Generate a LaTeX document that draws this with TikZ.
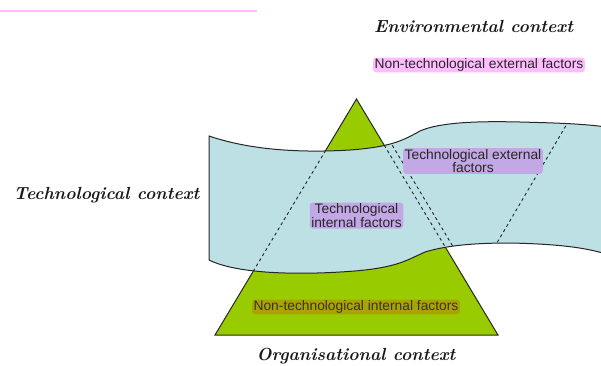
\documentclass[tikz,border=0pt]{standalone}
\usepackage{fontspec}
\setsansfont{Liberation Sans}
\begin{document}
\begin{tikzpicture}[x=1pt,y=-1pt,
  factor/.style={font=\sffamily\fontsize{13.8}{12.5}\selectfont, rounded corners=3pt,
    inner xsep=1.5pt, inner ysep=1pt, align=center, text=black!85},
  ctx/.style={font=\fontsize{17.5}{19}\selectfont\itshape\bfseries, text=black!90},
  outline/.style={draw=black!85, line width=1pt}]
\definecolor{trigreen}{HTML}{99CC00}
\definecolor{ribbonblue}{HTML}{BCE0E3}
\definecolor{techpurple}{HTML}{C3A8E6}
\definecolor{envpink}{HTML}{FFBDFF}
\definecolor{orgolive}{HTML}{A9A400}
\useasboundingbox (0,0) rectangle (601,365);

% rule at the top left
\draw[envpink, line width=2.5pt] (0,11) -- (257,11);

% organisational triangle
\coordinate (apex) at (356.5,99);
\coordinate (bl) at (215,335);
\coordinate (br) at (498,335);
\filldraw[fill=trigreen, outline] (apex) -- (br) -- (bl) -- cycle;

% technological ribbon
\def\ribbon{(209,136) .. controls (250,150) and (300,153) .. (350,150)
  .. controls (390,147) and (402,141) .. (420,131)
  .. controls (440,122) and (480,121) .. (520,122)
  .. controls (560,123) and (590,124) .. (612,128)
  -- (612,256)
  .. controls (590,248) and (560,244) .. (510,243)
  .. controls (470,243) and (445,246) .. (425,252)
  .. controls (405,261) and (395,269) .. (340,272)
  .. controls (290,275) and (235,273) .. (209,260) -- cycle}
\filldraw[fill=ribbonblue, outline] \ribbon;

% triangle edges and the external boundary, seen through the ribbon
\begin{scope}[dashed, line width=0.9pt, black!85]
  \clip \ribbon;
  \draw (apex) -- (bl);
  \draw (apex) -- (br);
  \draw ([xshift=8pt]apex) -- ([xshift=8pt]br);
  \draw (581,100) -- (481,270);
\end{scope}

% context labels
\node[ctx] (env) at (473.5,26) {Environmental context};
\node[ctx] (tech) at (106.5,195) {Technological context};
\node[ctx] (org) at (356,356) {Organisational context};

% factor labels
\node[factor, fill=envpink] (ntext) at (479,65) {Non-technological external factors};
\node[factor, fill=techpurple] (tint) at (356.5,215.5) {Technological\\internal factors};
\node[factor, fill=techpurple] (text) at (473,161) {Technological external\\factors};
\node[factor, fill=orgolive, text=black!80!olive] (ntint) at (356,307) {Non-technological internal factors};
\end{tikzpicture}
\end{document}
